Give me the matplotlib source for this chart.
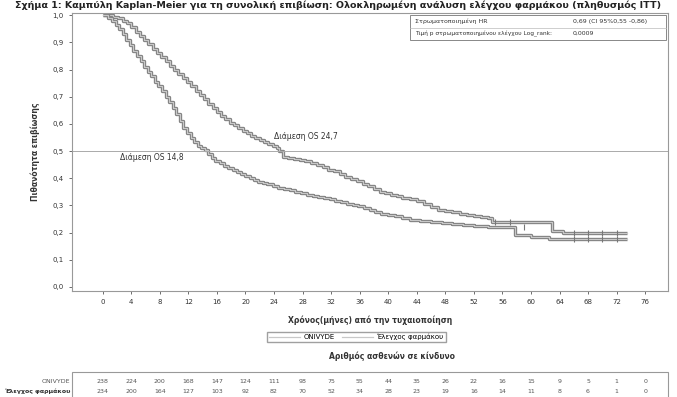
import numpy as np
import matplotlib.pyplot as plt
from matplotlib.patches import Rectangle
from matplotlib.transforms import blended_transform_factory

# survival curves (months, probability)
onivyde_t = [0, 1.5, 2.2, 2.8, 3.4, 4, 4.6, 5.2, 5.8, 6.4, 7, 7.6, 8.2, 8.8, 9.4, 10,
             10.6, 11.2, 11.8, 12.4, 13, 13.6, 14.2, 14.8, 15.4, 16, 16.6, 17.2, 17.8,
             18.4, 19, 19.6, 20.2, 20.8, 21.4, 22, 22.6, 23.2, 23.8, 24.4, 24.7, 25.2,
             26, 26.8, 27.6, 28.4, 29.2, 30, 30.8, 31.6, 32.4, 33.2, 34, 34.8, 35.6,
             36.4, 37.2, 38, 38.8, 39.6, 40.4, 41.2, 42, 43, 44, 45, 46, 47, 48, 49,
             50, 51, 52, 53, 54, 54.6, 57, 59.3, 63, 64.5, 66.7, 70, 73.5]
onivyde_s = [1.0, 0.995, 0.99, 0.98, 0.97, 0.955, 0.94, 0.925, 0.91, 0.895, 0.875,
             0.86, 0.845, 0.83, 0.815, 0.80, 0.785, 0.77, 0.755, 0.74, 0.72, 0.705,
             0.69, 0.675, 0.66, 0.645, 0.63, 0.618, 0.605, 0.595, 0.585, 0.575, 0.565,
             0.557, 0.55, 0.54, 0.533, 0.527, 0.52, 0.512, 0.50, 0.48, 0.475, 0.47,
             0.467, 0.462, 0.455, 0.447, 0.44, 0.432, 0.425, 0.415, 0.405, 0.397, 0.39,
             0.38, 0.37, 0.36, 0.35, 0.345, 0.34, 0.333, 0.328, 0.322, 0.315, 0.305,
             0.295, 0.285, 0.28, 0.275, 0.268, 0.265, 0.26, 0.257, 0.252, 0.24, 0.24,
             0.24, 0.205, 0.2, 0.197, 0.197, 0.197]

control_t = [0, 0.8, 1.3, 1.8, 2.3, 2.8, 3.3, 3.8, 4.3, 4.8, 5.3, 5.8, 6.3, 6.8, 7.3,
             7.8, 8.3, 8.8, 9.3, 9.8, 10.3, 10.8, 11.3, 11.8, 12.3, 12.8, 13.3, 13.8,
             14.3, 14.8, 15.3, 15.8, 16.4, 17, 17.6, 18.2, 18.8, 19.4, 20, 20.6, 21.2,
             21.8, 22.4, 23, 23.8, 24.6, 25.4, 26.2, 27, 27.8, 28.6, 29.4, 30.2, 31,
             31.8, 32.6, 33.4, 34.2, 35, 35.8, 36.6, 37.4, 38.2, 39, 40, 41, 42, 43,
             44.5, 46, 47.5, 49, 50.5, 52, 54, 57.8, 60, 62.5, 66, 73.5]
control_s = [1.0, 0.99, 0.98, 0.965, 0.95, 0.93, 0.91, 0.89, 0.87, 0.85, 0.83, 0.81,
             0.79, 0.775, 0.755, 0.74, 0.72, 0.70, 0.68, 0.66, 0.635, 0.61, 0.585,
             0.565, 0.55, 0.535, 0.52, 0.512, 0.505, 0.49, 0.475, 0.465, 0.455, 0.445,
             0.437, 0.43, 0.422, 0.415, 0.408, 0.40, 0.395, 0.388, 0.383, 0.378, 0.372,
             0.366, 0.36, 0.355, 0.35, 0.345, 0.34, 0.336, 0.332, 0.328, 0.322, 0.317,
             0.312, 0.307, 0.302, 0.297, 0.29, 0.283, 0.277, 0.27, 0.265, 0.26, 0.255,
             0.248, 0.243, 0.238, 0.234, 0.23, 0.228, 0.225, 0.22, 0.19, 0.185, 0.175,
             0.175, 0.175]

# at-risk table
risk_months = list(range(0, 80, 4))
risk_onivyde = [238, 224, 200, 168, 147, 124, 111, 98, 75, 55, 44, 35, 26, 22, 16, 15, 9, 5, 1, 0]
risk_control = [234, 200, 164, 127, 103, 92, 82, 70, 52, 34, 28, 23, 19, 16, 14, 11, 8, 6, 1, 0]

labels = ["ONIVYDE", "Έλεγχος φαρμάκου"]
y_ticks = [0.0, 0.1, 0.2, 0.3, 0.4, 0.5, 0.6, 0.7, 0.8, 0.9, 1.0]

txt = "#333333"
fig = plt.figure(figsize=(6.77, 3.97), dpi=100)
ax = fig.add_axes([0.1064, 0.267, 0.8803, 0.700])

for t, s, lab in [(onivyde_t, onivyde_s, labels[0]), (control_t, control_s, labels[1])]:
    ax.plot(t, s, drawstyle="steps-post", color="#7d7d7d", lw=2.4, solid_capstyle="butt")
    ax.plot(t, s, drawstyle="steps-post", color="#c8c8c8", lw=0.9, label=lab)

# censor marks near the tails
ax.plot([55, 57, 66, 68, 70, 72], [0.24, 0.24, 0.197, 0.197, 0.197, 0.197],
        ls="none", marker="|", ms=4, color="#777777", mew=0.8)
ax.plot([59, 66, 68, 70, 72], [0.22, 0.175, 0.175, 0.175, 0.175],
        ls="none", marker="|", ms=4, color="#777777", mew=0.8)

ax.axhline(0.5, color="#aaaaaa", lw=0.7)
ax.text(24, 0.555, "Διάμεση OS 24,7", fontsize=5.5, color=txt, va="center")
ax.text(2.4, 0.478, "Διάμεση OS 14,8", fontsize=5.5, color=txt, va="center")

ax.set_xlim(-4.3, 79.2)
ax.set_ylim(-0.015, 1.008)
ax.set_xticks(risk_months)
ax.set_xticklabels([str(m) for m in risk_months])
ax.set_yticks(y_ticks)
ax.set_yticklabels([f"{v:.1f}".replace(".", ",") for v in y_ticks])
ax.tick_params(labelsize=5, colors="#555555", length=2.5, width=0.6, labelcolor=txt)
for sp in ax.spines.values():
    sp.set_color("#999999")
    sp.set_linewidth(0.8)
ax.set_ylabel("Πιθανότητα επιβίωσης", fontsize=5.5, fontweight="bold", color=txt, labelpad=9)
ax.set_xlabel("Χρόνος(μήνες) από την τυχαιοποίηση", fontsize=5.5, fontweight="bold",
              color=txt, labelpad=7)

# stats box
ax.add_patch(Rectangle((0.567, 0.903), 0.43, 0.09, transform=ax.transAxes,
                       facecolor="white", edgecolor="#888888", lw=0.7, zorder=5))
ax.plot([0.567, 0.997], [0.948, 0.948], transform=ax.transAxes, color="#bbbbbb", lw=0.5, zorder=6)
ax.text(0.575, 0.970, "Στρωματοποιημένη HR", transform=ax.transAxes, fontsize=4.5,
        color=txt, va="center", zorder=7)
ax.text(0.84, 0.970, "0,69 (CI 95%0,55 -0,86)", transform=ax.transAxes, fontsize=4.5,
        color=txt, va="center", zorder=7)
ax.text(0.575, 0.926, "Τιμή p στρωματοποιημένου ελέγχου Log_rank:", transform=ax.transAxes,
        fontsize=4.2, color=txt, va="center", zorder=7)
ax.text(0.84, 0.926, "0,0009", transform=ax.transAxes, fontsize=4.5, color=txt,
        va="center", zorder=7)

fig.legend(loc="center", bbox_to_anchor=(0.526, 0.151), ncol=2, fontsize=5,
           frameon=True, edgecolor="#888888", fancybox=False, handlelength=4.5,
           borderpad=0.3, columnspacing=1.0, handletextpad=0.5)

fig.text(0.5, 0.988, "Σχήμα 1: Καμπύλη Kaplan-Meier για τη συνολική επιβίωση: Ολοκληρωμένη "
         "ανάλυση ελέγχου φαρμάκου (πληθυσμός ITT)", ha="center", va="center",
         fontsize=6.8, fontweight="bold", color="#222222")

fig.text(0.579, 0.103, "Αριθμός ασθενών σε κίνδυνο", ha="center", va="center",
         fontsize=5.5, fontweight="bold", color=txt)

# at-risk table
fig.add_artist(Rectangle((0.1064, -0.01), 0.8803, 0.073, transform=fig.transFigure,
                         facecolor="none", edgecolor="#999999", lw=0.8))
tr = blended_transform_factory(ax.transData, fig.transFigure)
for vals, yy in [(risk_onivyde, 0.040), (risk_control, 0.015)]:
    for m, v in zip(risk_months, vals):
        ax.text(m, yy, str(v), transform=tr, ha="center", va="center", fontsize=4.5,
                color="#555555", clip_on=False)
fig.text(0.1034, 0.040, labels[0], ha="right", va="center", fontsize=4.5, color="#555555")
fig.text(0.1034, 0.015, labels[1], ha="right", va="center", fontsize=4.5,
         fontweight="bold", color=txt)

fig.savefig("out.png", dpi=100)
